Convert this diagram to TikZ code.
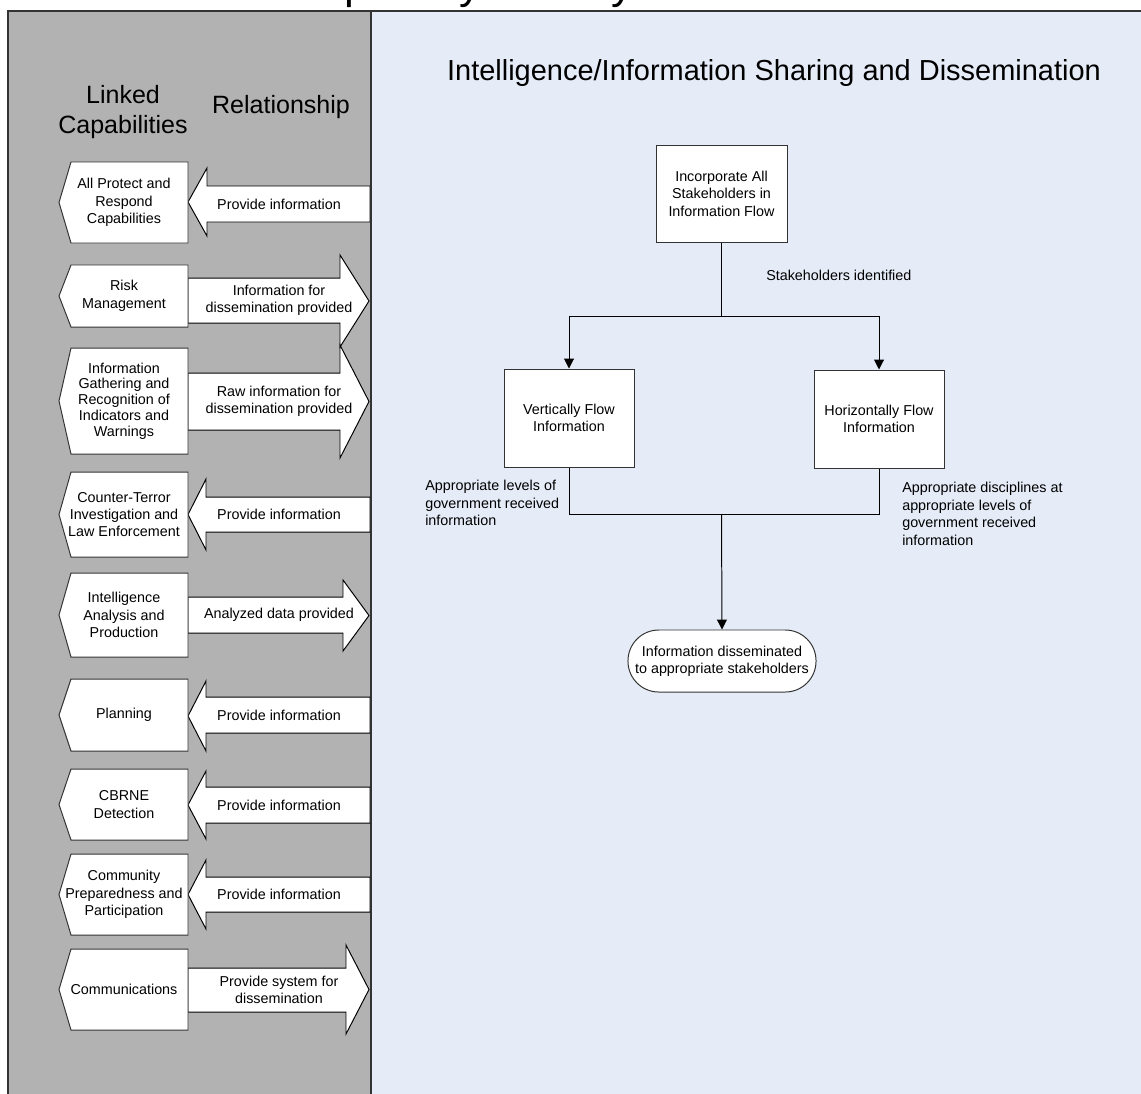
\documentclass[tikz,border=0pt]{standalone}
\usepackage{fontspec}
\setmainfont{Liberation Sans}
\usepackage{xcolor}
\usetikzlibrary{positioning,
        arrows.meta}

\definecolor{panelgray}{RGB}{178,178,178}
\definecolor{panelblue}{RGB}{229,236,247}

\tikzset{
        panel/.style={draw=black!80,line width=0.8pt},
        capblock/.style={draw=black!80,fill=white,line width=0.7pt},
        relblock/.style={draw=black,fill=white,line width=0.7pt},
        txt/.style={font=\fontsize{10.2}{12.4}\selectfont,align=center,inner sep=0pt},
        stepbox/.style={txt,draw=black!80,fill=white,line width=0.7pt,minimum width=3.25cm,minimum height=2.45cm},
        endbox/.style={txt,draw=black!80,fill=white,line width=0.7pt,rounded corners=0.77cm,minimum width=4.7cm,minimum height=1.55cm},
        flow/.style={line width=0.7pt,-{Triangle[length=7pt,width=7pt]}},
        link/.style={line width=0.7pt}
}

% capability box: top, bottom
\newcommand{\capblock}[2]{\draw[capblock] (71,#1) -- (188,#1) -- (188,#2) -- (71,#2) -- (59,{(#1+#2)/2}) -- cycle;}
% block arrows: shaft top, shaft bottom, head top, head bottom, head base
\newcommand{\relout}[5]{\draw[relblock] (188,#1) -- (#5,#1) -- (#5,#3) -- (369,{(#3+#4)/2}) -- (#5,#4) -- (#5,#2) -- (188,#2) -- cycle;}
\newcommand{\relin}[5]{\draw[relblock] (370,#1) -- (#5,#1) -- (#5,#3) -- (188,{(#3+#4)/2}) -- (#5,#4) -- (#5,#2) -- (370,#2) -- cycle;}

\begin{document}
\begin{tikzpicture}[x=0.025cm,y=-0.025cm]
        \useasboundingbox (0,0) rectangle (1141,1093);

        % page title, cut off by the page edge
        \node [anchor=base west,inner sep=0pt,font=\fontsize{31.3}{36}\selectfont] (pagetitle) at (288,-2) {Capability Activity Process Flow};

        \fill [panelgray] (8,11) rectangle (371,1100);
        \fill [panelblue] (371,11) rectangle (1150,1100);
        \draw [panel] (1150,11) -- (8,11) -- (8,1100);
        \draw [panel] (371,11) -- (371,1100);

        \node [anchor=base,inner sep=0pt,font=\fontsize{20.6}{24}\selectfont] (title) at (774,80) {Intelligence/Information Sharing and Dissemination};
        \node [align=center,inner sep=0pt,font=\fontsize{17.8}{21.3}\selectfont] (linked) at (123,112) {Linked\\Capabilities};
        \node [anchor=base,inner sep=0pt,font=\fontsize{17.8}{21}\selectfont] (relation) at (281,113) {Relationship};

        % linked capabilities
        \relin{186}{222}{168}{236}{207}
        \capblock{162}{243}
        \node [txt] (cap1) at (124,202.5) {All Protect and\\Respond\\Capabilities};
        \node [txt] (rel1) at (279,204) {Provide information};

        \relout{278}{323}{255}{347}{340}
        \capblock{265}{327}
        \node [txt] (cap2) at (124,296) {Risk\\Management};
        \node [txt] (rel2) at (279,300.5) {Information for\\dissemination provided};

        \relout{373}{430}{345}{458}{340}
        \capblock{348}{454}
        \node [txt,font=\fontsize{10.2}{11.2}\selectfont] (cap3) at (124,401) {Information\\Gathering and\\Recognition of\\Indicators and\\Warnings};
        \node [txt] (rel3) at (279,401.5) {Raw information for\\dissemination provided};

        \relin{497}{532}{479}{550}{206}
        \capblock{472}{557}
        \node [txt] (cap4) at (124,514.5) {Counter-Terror\\Investigation and\\Law Enforcement};
        \node [txt] (rel4) at (279,514.5) {Provide information};

        \relout{597}{633}{580}{651}{343}
        \capblock{573}{657}
        \node [txt] (cap5) at (124,615) {Intelligence\\Analysis and\\Production};
        \node [txt] (rel5) at (279,615) {Analyzed data provided};

        \relin{697}{733}{681}{751}{206}
        \capblock{679}{751}
        \node [txt] (cap6) at (124,715) {Planning};
        \node [txt] (rel6) at (279,715) {Provide information};

        \relin{787}{823}{771}{839}{206}
        \capblock{769}{840}
        \node [txt] (cap7) at (124,804.5) {CBRNE\\Detection};
        \node [txt] (rel7) at (279,805) {Provide information};

        \relin{877}{912}{860}{929}{206}
        \capblock{854}{935}
        \node [txt] (cap8) at (124,894.5) {Community\\Preparedness and\\Participation};
        \node [txt] (rel8) at (279,894.5) {Provide information};

        \relout{968}{1012}{945}{1034}{346}
        \capblock{949}{1030}
        \node [txt] (cap9) at (124,989.5) {Communications};
        \node [txt] (rel9) at (279,990) {Provide system for\\dissemination};

        % activity flow
        \node [stepbox,minimum width=3.275cm,minimum height=2.425cm] (incorp) at (721.5,193.5) {Incorporate All\\Stakeholders in\\Information Flow};
        \node [stepbox] (vert) at (569,418) {Vertically Flow\\Information};
        \node [stepbox] (horiz) at (879,419) {Horizontally Flow\\Information};
        \node [endbox] (done) at (722,661) {Information disseminated\\to appropriate stakeholders};

        \draw [link] (incorp.south) -- ++(0,74) coordinate (split);
        \draw [flow] (split) -| (vert.north);
        \draw [flow] (split) -| (horiz.north);
        \path (split) ++(0,198) coordinate (join);
        \draw [link] (vert.south) |- (join);
        \draw [link] (horiz.south) |- (join);
        \draw [flow] (join) -- (done.north);

        \node [txt,anchor=west] (stake) at (766,275) {Stakeholders identified};
        \node [txt,align=left,anchor=west] (vertlbl) at (425,503) {Appropriate levels of\\government received\\information};
        \node [txt,align=left,anchor=west] (horizlbl) at (902,514) {Appropriate disciplines at\\appropriate levels of\\government received\\information};
\end{tikzpicture}
\end{document}
